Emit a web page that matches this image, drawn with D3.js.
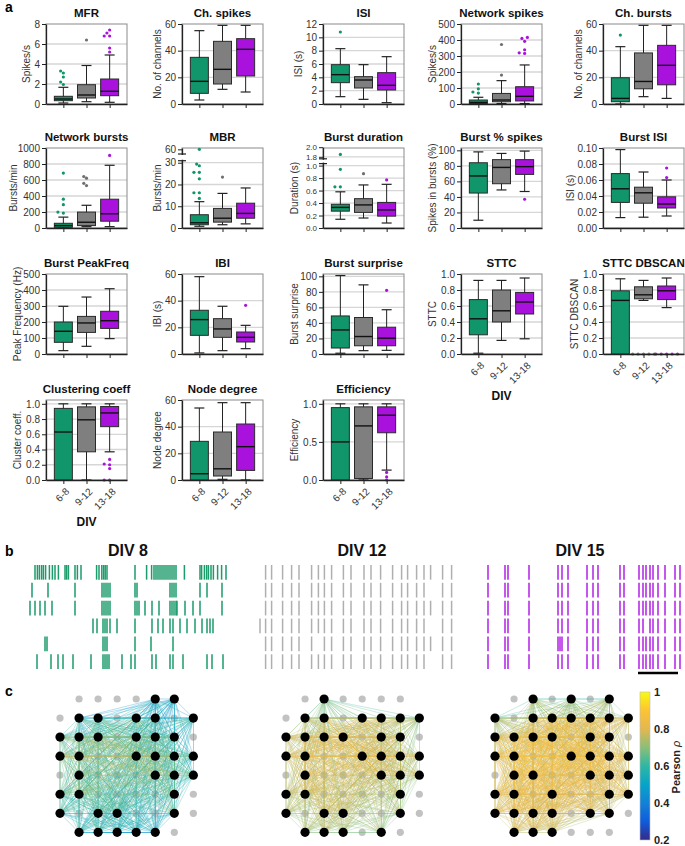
<!DOCTYPE html>
<html>
<head>
<meta charset="utf-8">
<script src="https://cdn.jsdelivr.net/npm/d3@7"></script>
<style>
  body { margin: 0; background: #fff; }
</style>
</head>
<body>
<div id="fig"></div>
<script>
// groups (DIV ranges) and colours
const groups = ["6-8", "9-12", "13-18"];
const groupColors = ["#11956a", "#7f7f7f", "#a812dc"];

// box summaries: [low whisker, q1, median, q3, high whisker] per group
const mfrBox = [[0.1, 0.33, 0.5, 0.77, 1.67], [0.23, 0.6, 0.9, 1.93, 3.85], [0.17, 0.83, 1.27, 2.5, 4.9]];
const mfrOut = [[1.95, 2.2, 2.7, 3.1, 3.3], [6.4], [5.2, 5.6, 6.8, 6.8, 7.1, 7.4]];
const chSpikesBox = [[3, 8, 17, 35, 55], [11, 15, 26, 47, 59], [9, 21, 41, 49, 59]];
const isiBox = [[1.1, 3.2, 4.4, 5.9, 8.3], [0.7, 2.4, 3.6, 4.1, 5.9], [0.2, 2.1, 2.8, 4.7, 7.1]];
const isiOut = [[10.8], [], []];
const netSpikesBox = [[0, 3, 10, 25, 42], [3, 14, 25, 66, 146], [3, 19, 48, 108, 244]];
const netSpikesOut = [[68, 75, 95, 125], [181, 372], [316, 320, 339, 392, 410, 416]];
const chBurstsBox = [[0, 1.7, 4.2, 19.7, 43], [5.5, 11.4, 16.9, 38.3, 59], [4.2, 14.4, 29, 44, 59]];
const chBurstsOut = [[51.7], [], []];
const netBurstsBox = [[0, 8, 30, 59, 136], [17, 30, 72, 199, 284], [17, 85, 178, 360, 784]];
const netBurstsOut = [[186, 199, 292, 360, 686], [530, 559, 623, 644], [907]];
const mbrBox = [[0.8, 1.5, 2.4, 6.1, 12.1], [1.5, 2.7, 4.5, 9, 15.9], [1.9, 4.5, 6.7, 11.4, 18.4]];
const mbrOut = [[13.6, 16.2, 16.2, 22.6, 25.6, 25.6, 28.6, 29.4, 60], [23.4], []];
const durBox = [[0.14, 0.27, 0.33, 0.38, 0.58], [0.16, 0.25, 0.37, 0.47, 0.69], [0.08, 0.19, 0.29, 0.41, 0.7]];
const durOut = [[0.66, 0.66, 0.94, 1.85], [0.87], [0.77]];
const pctBox = [[10, 45, 67, 84, 98], [49, 57, 78, 88, 96], [47, 69, 79, 88, 99]];
const pctOut = [[], [], [37]];
const bisiBox = [[0.013, 0.032, 0.049, 0.068, 0.098], [0.0135, 0.031, 0.044, 0.051, 0.07], [0.015, 0.025, 0.03, 0.039, 0.06]];
const bisiOut = [[], [], [0.063, 0.075]];
const peakBox = [[21, 73, 142, 200, 298], [48, 135, 194, 235, 356], [96, 160, 208, 267, 408]];
const ibiBox = [[0.8, 14, 25.8, 32.8, 58], [2.5, 12.5, 18.8, 26.5, 35.8], [4, 9, 12.5, 16.5, 21.5]];
const ibiOut = [[], [], [36.5]];
const surpriseBox = [[1, 7.7, 31, 49, 101], [4.3, 10.6, 22.5, 47, 89], [4.7, 10.6, 20.4, 34.5, 57]];
const surpriseOut = [[], [], [82]];
const sttcBox = [[0.01, 0.24, 0.44, 0.68, 0.92], [0.17, 0.4, 0.54, 0.8, 0.92], [0.19, 0.5, 0.65, 0.77, 0.95]];
const dbscanBox = [[0, 0, 0.67, 0.79, 0.94], [0.67, 0.69, 0.74, 0.84, 0.92], [0.58, 0.68, 0.79, 0.85, 0.95]];
const dbscanOut = [[], [0, 0, 0, 0, 0], [0, 0, 0, 0, 0, 0, 0, 0]];
const clusterBox = [[0, 0, 0.63, 0.94, 1.0], [0, 0.37, 0.79, 0.96, 1.0], [0.37, 0.7, 0.88, 0.965, 1.0]];
const clusterOut = [[], [], [0, 0, 0.15, 0.2, 0.21, 0.27]];
const degreeBox = [[0, 0, 4.7, 29, 54], [0.5, 3, 8.4, 36, 58], [0, 7.2, 25, 42, 58]];
const effBox = [[0, 0, 0.5, 0.95, 1.0], [0, 0.02, 0.71, 0.96, 1.0], [0.13, 0.62, 0.85, 0.96, 1.0]];
const effOut = [[], [], [0, 0.04, 0.1]];

// tick values
const t01 = [0, 0.2, 0.4, 0.6, 0.8, 1.0];

const panels = [
  { title: "MFR", ylab: "Spikes/s", box: mfrBox, out: mfrOut, ticks: [0, 2, 4, 6, 8], ymax: 8 },
  { title: "Ch. spikes", ylab: "No. of channels", box: chSpikesBox, out: [], ticks: [0, 20, 40, 60], ymax: 60 },
  { title: "ISI", ylab: "ISI (s)", box: isiBox, out: isiOut, ticks: [0, 2, 4, 6, 8, 10, 12], ymax: 12 },
  { title: "Network spikes", ylab: "Spikes/s", box: netSpikesBox, out: netSpikesOut, ticks: [0, 100, 200, 300, 400, 500], ymax: 500 },
  { title: "Ch. bursts", ylab: "No. of channels", box: chBurstsBox, out: chBurstsOut, ticks: [0, 20, 40, 60], ymax: 60 },
  { title: "Network bursts", ylab: "Bursts/min", box: netBurstsBox, out: netBurstsOut, ticks: [0, 200, 400, 600, 800, 1000], ymax: 1000 },
  { title: "MBR", ylab: "Bursts/min", box: mbrBox, out: mbrOut, ticks: [0, 10, 20, 30, 60], brk: [0, 30, 58, 61], brkFrac: [0, 0.816, 0.95, 1] },
  { title: "Burst duration", ylab: "Duration (s)", box: durBox, out: durOut, ticks: [0, 0.2, 0.4, 0.6, 0.8, 1.0, 1.8, 2.0], brk: [0, 1, 1.8, 2], brkFrac: [0, 0.78, 0.89, 1.01], fmt: ".1f", small: true },
  { title: "Burst % spikes", ylab: "Spikes in bursts (%)", box: pctBox, out: pctOut, ticks: [0, 20, 40, 60, 80, 100], ymax: 103 },
  { title: "Burst ISI", ylab: "ISI (s)", box: bisiBox, out: bisiOut, ticks: [0, 0.02, 0.04, 0.06, 0.08, 0.1], ymax: 0.1, fmt: ".2f" },
  { title: "Burst PeakFreq", ylab: "Peak Frequency (Hz)", box: peakBox, out: [], ticks: [0, 100, 200, 300, 400, 500], ymax: 500 },
  { title: "IBI", ylab: "IBI (s)", box: ibiBox, out: ibiOut, ticks: [0, 20, 40, 60], ymax: 60 },
  { title: "Burst surprise", ylab: "Burst surprise", box: surpriseBox, out: surpriseOut, ticks: [0, 20, 40, 60, 80, 100], ymax: 103 },
  { title: "STTC", ylab: "STTC", box: sttcBox, out: [], ticks: t01, ymax: 1, fmt: ".1f", xlab: true, div: true },
  { title: "STTC DBSCAN", ylab: "STTC DBSCAN", box: dbscanBox, out: dbscanOut, ticks: t01, ymax: 1, fmt: ".1f", xlab: true },
  { title: "Clustering coeff", ylab: "Cluster coeff.", box: clusterBox, out: clusterOut, ticks: t01, ymax: 1.05, fmt: ".1f", xlab: true, div: true },
  { title: "Node degree", ylab: "Node degree", box: degreeBox, out: [], ticks: [0, 20, 40, 60], ymax: 60, xlab: true },
  { title: "Efficiency", ylab: "Efficiency", box: effBox, out: effOut, ticks: [0, 0.5, 1.0], ymax: 1.05, fmt: ".1f", xlab: true }
];

// raster: burst times (s) per channel row
const div8Raster = [
  [2.5, 3.7, 4.7, 5.8, 6.7, 7.8, 9.7, 11.2, 12.5, 14.2, 17.5, 18.3, 19.2, 22.5, 23.7, 25.5, 33.3, 34.5, 35.9, 36.8, 37.6, 38.5, 52.5, 58.3, 60.8, 62, 63, 64, 65, 66, 67, 68, 69, 70, 71, 72, 73, 77.2, 85, 85.8, 87.2, 88.3, 89.2, 90.5, 91.7, 93.8, 95.8, 98],
  [1, 9, 22.5, 36, 37, 38, 39, 40, 52.5, 53.5, 70, 71, 72, 73, 85, 88.5, 96],
  [0, 2.5, 5, 7.5, 11, 22.5, 36, 37, 38, 39, 40, 52.5, 53.5, 54.5, 57.5, 61, 64.5, 70, 71, 72, 73, 73.5, 77.5, 81.5, 85, 96],
  [31.5, 33.5, 36.5, 37.5, 38.5, 40, 43.5, 52.5, 61, 64, 66.5, 70, 71.5, 75, 78.5, 82.5, 86, 88.5, 90, 91.5],
  [7.5, 8.5, 36.5, 37.5, 38.5, 52.5, 60.5, 71.5],
  [3.5, 10.5, 14, 16.5, 21.5, 30.5, 36.5, 37.5, 38.5, 39.5, 46, 50.5, 52.5, 61, 63, 70, 71.5, 76.5, 88.5, 91, 96.5]
];
const div12Raster = [
  [2.8, 5.8, 11.3, 15.8, 19.5, 25.8, 29.2, 32.2, 35.8, 41.7, 45.5, 52, 55.5, 60.3, 66.3, 70.8, 73.8, 78.3, 82, 85.3, 91.3, 95.8],
  [2.8, 5.8, 11.3, 15.8, 19.5, 25.8, 29.2, 32.2, 35.8, 41.7, 45.5, 52, 55.5, 60.3, 66.3, 70.8, 73.8, 78.3, 82, 91.3, 95.8],
  [2.8, 5.8, 11.3, 15.8, 19.5, 25.8, 29.2, 32.2, 35.8, 41.7, 45.5, 52, 55.5, 60.3, 66.3, 70.8, 73.8, 78.3, 82, 85.3, 91.3, 95.8],
  [0, 2.8, 5.8, 11.3, 15.8, 19.5, 25.8, 29.2, 32.2, 35.8, 41.7, 45.5, 52, 55.5, 60.3, 66.3, 70.8, 73.8, 78.3, 82, 91.3, 95.8],
  [2.8, 5.8, 11.3, 15.8, 19.5, 25.8, 32.2, 35.8, 41.7, 45.5, 52, 55.5, 60.3, 66.3, 70.8, 73.8, 78.3, 82, 85.3, 91.3, 95.8],
  [2.8, 5.8, 11.3, 15.8, 19.5, 25.8, 29.2, 32.2, 35.8, 41.7, 45.5, 52, 55.5, 60.3, 66.3, 70.8, 73.8, 78.3, 82, 91.3, 95.8]
];
const div15Raster = [
  [1.5, 10, 11.5, 22, 36.5, 38.5, 41.5, 51, 54, 56.5, 67.5, 69.5, 77, 79, 80.5, 82.5, 84, 86.5, 90, 95, 97.5],
  [1.5, 10, 11.5, 22, 36.5, 38.5, 41.5, 51, 54, 56.5, 67.5, 69.5, 77, 79, 80.5, 82.5, 84, 86.5, 90, 95, 97.5],
  [1.5, 10, 11.5, 22, 36.5, 38.5, 41.5, 51, 54, 56.5, 67.5, 69.5, 77, 79, 80.5, 82.5, 84, 86.5, 90, 95, 97.5],
  [1.5, 10, 11.5, 22, 36.5, 38.5, 41.5, 51, 54, 56.5, 67.5, 69.5, 77, 79, 82.5, 84, 86.5, 90, 95, 97.5],
  [1.5, 10, 11.5, 22, 36.5, 37.5, 38.5, 41.5, 51, 54, 56.5, 67.5, 69.5, 77, 79, 80.5, 82.5, 84, 86.5, 90, 95, 97.5],
  [1.5, 10, 11.5, 22, 36.5, 38.5, 41.5, 51, 54, 56.5, 67.5, 69.5, 77, 79, 80.5, 82.5, 84, 86.5, 90, 95, 97.5]
];
const rasterTitles = ["DIV 8", "DIV 12", "DIV 15"];

// MEA 8x8 grid: -1 = no electrode, 0 = inactive, else mean Pearson rho of node
const net8 = [
  [-1, 0, 0, 0, 0, .38, .36, -1],
  [0, .52, .6, 0, .62, .58, 0, .48],
  [.66, .7, .74, 0, .72, .66, .6, 0],
  [.78, .74, 0, 0, .76, .78, .7, .56],
  [0, .72, 0, 0, 0, .76, .72, .6],
  [.64, .74, 0, 0, 0, 0, .64, 0],
  [.56, 0, .62, .58, 0, 0, .6, 0],
  [-1, .5, .52, .48, .44, .42, 0, -1]
];
const net12 = [
  [-1, 0, .58, 0, 0, 0, 0, -1],
  [0, .72, .76, 0, .78, .76, .72, .66],
  [.76, .82, .84, .84, 0, .82, .76, 0],
  [.8, .86, 0, 0, .86, .84, .78, .74],
  [0, .84, 0, 0, 0, .82, .76, .72],
  [.74, .8, 0, 0, 0, 0, .72, 0],
  [.7, 0, .78, .76, 0, 0, .68, 0],
  [-1, .68, .72, .7, 0, .66, 0, -1]
];
const net15 = [
  [-1, 0, .62, 0, .6, 0, .62, -1],
  [.64, 0, .8, .84, .84, .82, .8, .74],
  [.8, .88, .88, .86, 0, .86, .82, 0],
  [.84, .9, 0, 0, .88, .88, .84, .8],
  [0, .88, .88, 0, 0, .86, .82, .8],
  [.8, .84, 0, .84, 0, 0, .78, .76],
  [.78, .82, .8, .8, 0, .76, .72, 0],
  [-1, .76, .76, .74, 0, 0, 0, -1]
];
const cbarTicks = [0.2, 0.4, 0.6, 0.8, 1];
const parulaStops = ["#352a87", "#0f5cdd", "#1481d6", "#06a4ca", "#2eb7a4", "#89bf77", "#e4b74f", "#fcc434", "#f9fb0e"];

// ---------------------------------------------------------------
const svg = d3.select("#fig").append("svg")
  .attr("width", 685).attr("height", 846)
  .style("font-family", "'Liberation Sans', Arial, sans-serif");

const colLeft = [46, 182, 323, 461, 603];
const rowTop = [24, 148, 274, 400];
const pw = 81, ph = 80;

function swarm(vals, y, cx, r) {
  const placed = [];
  vals.slice().sort((a, b) => a - b).forEach(v => {
    const py = y(v);
    for (const o of [0, -1, 1, -2, 2, -3, 3, -4, 4, -5, 5]) {
      const px = cx + o * r * 1.7;
      if (placed.every(p => Math.hypot(p[0] - px, p[1] - py) >= r * 1.9)) { placed.push([px, py]); break; }
    }
  });
  return placed;
}

panels.forEach((p, i) => {
  const left = colLeft[i % 5], top = rowTop[Math.floor(i / 5)];
  const bottom = top + ph;
  const g = svg.append("g");
  const x = d3.scalePoint().domain(groups).range([left, left + pw]).padding(0.75);
  const y = p.brk
    ? d3.scaleLinear().domain(p.brk).range(p.brkFrac.map(f => bottom - f * ph))
    : d3.scaleLinear().domain([0, p.ymax]).range([bottom, top]);
  const fmt = p.fmt ? d3.format(p.fmt) : d3.format("");

  // grid
  g.selectAll("line.grid")
    .data(p.ticks.filter(t => t > 0 && y(t) - top > 1.5))
    .join("line")
    .attr("x1", left).attr("x2", left + pw)
    .attr("y1", d => y(d)).attr("y2", d => y(d))
    .attr("stroke", "#d6d6d6").attr("stroke-width", 1.3);

  // frame
  g.append("rect").attr("x", left).attr("y", top).attr("width", pw).attr("height", ph)
    .attr("fill", "none").attr("stroke", "#8a8a8a").attr("stroke-width", 1);

  // boxes
  p.box.forEach((b, k) => {
    const cx = x(groups[k]), bw = 18, cw = 10;
    const c = groupColors[k];
    g.append("line").attr("x1", cx).attr("x2", cx).attr("y1", y(b[0])).attr("y2", y(b[4]))
      .attr("stroke", "#222").attr("stroke-width", 1);
    [b[0], b[4]].forEach(v => g.append("line")
      .attr("x1", cx - cw / 2).attr("x2", cx + cw / 2).attr("y1", y(v)).attr("y2", y(v))
      .attr("stroke", "#222").attr("stroke-width", 1.2));
    g.append("rect").attr("x", cx - bw / 2).attr("y", y(b[3]))
      .attr("width", bw).attr("height", Math.max(0.5, y(b[1]) - y(b[3])))
      .attr("fill", c).attr("stroke", "#2a2a2a").attr("stroke-width", 1);
    g.append("line").attr("x1", cx - bw / 2).attr("x2", cx + bw / 2).attr("y1", y(b[2])).attr("y2", y(b[2]))
      .attr("stroke", "#111").attr("stroke-width", 1.4);
    const outs = p.out[k] || [];
    g.selectAll(null).data(swarm(outs, y, cx, 1.6)).join("circle")
      .attr("cx", d => d[0]).attr("cy", d => d[1]).attr("r", 1.6)
      .attr("fill", k === 1 ? "#6f6f6f" : c);
  });

  // axes
  const ya = g.append("g").attr("transform", `translate(${left},0)`)
    .call(d3.axisLeft(y).tickValues(p.ticks).tickFormat(fmt).tickSize(4).tickPadding(2).tickSizeOuter(0));
  const xa = g.append("g").attr("transform", `translate(0,${bottom})`)
    .call(d3.axisBottom(x).tickSize(4).tickSizeOuter(0).tickFormat(p.xlab ? (d => d) : ""));
  [ya, xa].forEach(a => {
    a.select(".domain").attr("stroke", "#222").attr("stroke-width", 1.3);
    a.selectAll(".tick line").attr("stroke", "#222");
    a.selectAll("text").attr("fill", "#333").attr("font-size", 10);
  });
  if (p.small) ya.selectAll("text").attr("font-size", 8);
  if (p.xlab) {
    xa.selectAll(".tick text").attr("text-anchor", "end")
      .attr("transform", "translate(-3,3) rotate(-45)").attr("dy", "0.6em");
  }
  if (p.brk) {
    const ya1 = y(p.brk[1]) - 2, ya2 = y(p.brk[2]) + 2;
    g.append("rect").attr("x", left - 2).attr("y", ya2 + 1).attr("width", 4).attr("height", ya1 - ya2 - 2).attr("fill", "#fff");
    [ya1, ya2].forEach(yy => g.append("line").attr("x1", left - 4).attr("x2", left + 4)
      .attr("y1", yy).attr("y2", yy).attr("stroke", "#222").attr("stroke-width", 1.2));
  }

  // labels
  g.append("text").attr("x", left + pw / 2).attr("y", top - 7).attr("text-anchor", "middle")
    .attr("font-size", 11.5).attr("font-weight", "bold").attr("fill", "#111").text(p.title);
  const maxLen = d3.max(p.ticks, t => fmt(t).length);
  const lx = left - (12 + 4.3 * maxLen);
  g.append("text").attr("transform", `translate(${lx},${top + ph / 2}) rotate(-90)`)
    .attr("text-anchor", "middle").attr("font-size", 10).attr("fill", "#333").text(p.ylab);
  if (p.div) {
    g.append("text").attr("x", left + pw / 2).attr("y", bottom + 46).attr("text-anchor", "middle")
      .attr("font-size", 12).attr("font-weight", "bold").attr("fill", "#111").text("DIV");
  }
});

// panel letters
[["a", 12], ["b", 556], ["c", 696]].forEach(([t, yy]) =>
  svg.append("text").attr("x", 5).attr("y", yy).attr("font-size", 14).attr("font-weight", "bold").text(t));

// ---------------- panel b: rasters
const rasters = [div8Raster, div12Raster, div15Raster];
const rasterLeft = [30, 260, 485];
const rasterColors = ["#0f9763", "#ababab", "#b014e4"];
const titleX = [128, 362, 580];
rasters.forEach((rows, k) => {
  const x = d3.scaleLinear().domain([0, 100]).range([rasterLeft[k], rasterLeft[k] + 200]);
  const yr = d3.scaleBand().domain(d3.range(rows.length)).range([565, 669]).paddingInner(0.18);
  const g = svg.append("g");
  rows.forEach((times, r) => {
    g.selectAll(null).data(times).join("line")
      .attr("x1", d => x(d)).attr("x2", d => x(d))
      .attr("y1", yr(r)).attr("y2", yr(r) + yr.bandwidth())
      .attr("stroke", rasterColors[k]).attr("stroke-width", 1.5).attr("opacity", 0.95);
  });
  svg.append("text").attr("x", titleX[k]).attr("y", 556).attr("text-anchor", "middle")
    .attr("font-size", 16).attr("font-weight", "bold").attr("fill", "#111").text(rasterTitles[k]);
  if (k === 2) {
    svg.append("line").attr("x1", x(76.5)).attr("x2", x(96.5)).attr("y1", 673).attr("y2", 673)
      .attr("stroke", "#000").attr("stroke-width", 2.5);
  }
});

// ---------------- panel c: networks
const cmap = d3.scaleLinear().domain(d3.range(9).map(i => 0.2 + i * 0.1)).range(parulaStops).clamp(true);
const nets = [net8, net12, net15];
const netLeft = [60, 286, 495];
const step = 19.05;
nets.forEach((grid, k) => {
  const gx = d3.scaleLinear().domain([0, 7]).range([netLeft[k], netLeft[k] + 7 * step]);
  const gy = d3.scaleLinear().domain([0, 7]).range([699, 699 + 7 * step]);
  const nodes = [];
  grid.forEach((row, r) => row.forEach((v, c) => { if (v >= 0) nodes.push({ r, c, v }); }));
  const active = nodes.filter(n => n.v > 0);
  const edges = [];
  for (let i = 0; i < active.length; i++)
    for (let j = i + 1; j < active.length; j++)
      edges.push({ a: active[i], b: active[j], w: (active[i].v + active[j].v) / 2 });
  edges.sort((e1, e2) => e1.w - e2.w);
  const g = svg.append("g");
  g.selectAll("circle.off").data(nodes.filter(n => n.v === 0)).join("circle")
    .attr("cx", d => gx(d.c)).attr("cy", d => gy(d.r)).attr("r", 3.6).attr("fill", "#c2c2c2");
  g.selectAll("line").data(edges).join("line")
    .attr("x1", d => gx(d.a.c)).attr("y1", d => gy(d.a.r))
    .attr("x2", d => gx(d.b.c)).attr("y2", d => gy(d.b.r))
    .attr("stroke", d => cmap(d.w)).attr("stroke-width", 0.55).attr("opacity", 0.55);
  g.selectAll("circle.on").data(active).join("circle")
    .attr("cx", d => gx(d.c)).attr("cy", d => gy(d.r)).attr("r", 4.6).attr("fill", "#000");
});

// colorbar
const defs = svg.append("defs");
const grad = defs.append("linearGradient").attr("id", "parula").attr("x1", 0).attr("x2", 0).attr("y1", 1).attr("y2", 0);
parulaStops.forEach((c, i) => grad.append("stop").attr("offset", i / 8).attr("stop-color", c));
const cy = d3.scaleLinear().domain([0.2, 1]).range([840, 692]);
svg.append("rect").attr("x", 640).attr("y", 692).attr("width", 10).attr("height", 148)
  .attr("fill", "url(#parula)").attr("stroke", "#bbb").attr("stroke-width", 0.6);
const cax = svg.append("g").attr("transform", "translate(650,0)")
  .call(d3.axisRight(cy).tickValues(cbarTicks).tickSize(0).tickPadding(4).tickFormat(d3.format("")));
cax.select(".domain").remove();
cax.selectAll("text").attr("font-size", 11).attr("font-weight", "bold").attr("fill", "#222");
svg.append("text").attr("transform", "translate(680,767) rotate(-90)").attr("text-anchor", "middle")
  .attr("font-size", 11).attr("font-weight", "bold").attr("fill", "#222")
  .html("Pearson <tspan font-style='italic' font-weight='normal'>ρ</tspan>");
</script>
</body>
</html>
